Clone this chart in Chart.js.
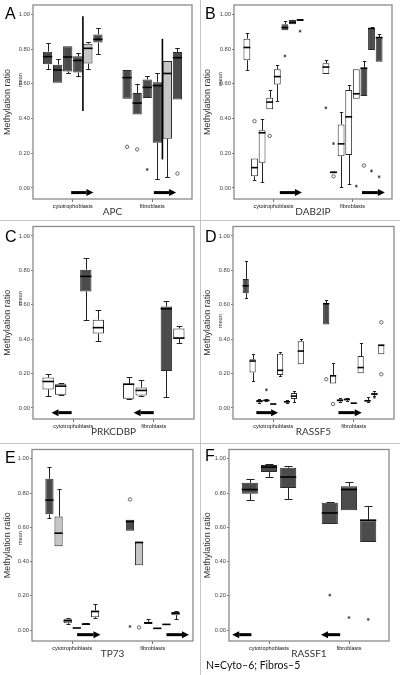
<!DOCTYPE html>
<html>
<head>
<meta charset="utf-8">
<script src="https://cdn.jsdelivr.net/npm/chart.js@4.4.1/dist/chart.umd.min.js"></script>
<style>
    body { margin: 0; background: #fff; width: 400px; height: 675px; position: relative; overflow: hidden; }
    canvas { position: absolute; }
    .vline { position: absolute; left: 200px; top: 0; width: 1px; height: 675px; background: #c4c4c4; }
    .hline { position: absolute; left: 0; width: 400px; height: 1px; background: #c4c4c4; }
    #note { position: absolute; left: 206px; top: 659px; font: 10.5px Lato, sans-serif; color: #111; }
</style>
</head>
<body>
<div class="vline"></div>
<div class="hline" style="top:220px"></div>
<div class="hline" style="top:443px"></div>
<canvas id="pA" width="200" height="220" style="left:0;top:0"></canvas>
<canvas id="pB" width="200" height="220" style="left:200px;top:0"></canvas>
<canvas id="pC" width="200" height="218" style="left:0;top:222px"></canvas>
<canvas id="pD" width="200" height="218" style="left:200px;top:222px"></canvas>
<canvas id="pE" width="200" height="217" style="left:0;top:445px"></canvas>
<canvas id="pF" width="200" height="217" style="left:200px;top:445px"></canvas>
<div id="note">N=Cyto–6; Fibros–5</div>
<script>
// categories and axis
const groups = ['cytotrophoblasts', 'fibroblasts'];
const yTicks = [0, 0.2, 0.4, 0.6, 0.8, 1.0];

// every box is [min, q1, median, q3, max]; outliers are [group, box, value, mark]

// A - APC
const apcCyto = [[0.684, 0.713, 0.757, 0.786, 0.834], [0.607, 0.607, 0.680, 0.711, 0.746], [0.665, 0.672, 0.755, 0.817, 0.817],
    [0.648, 0.665, 0.735, 0.760, 0.780], [0.688, 0.717, 0.805, 0.832, 0.844], [0.775, 0.838, 0.857, 0.885, 0.920]];
const apcFibro = [[0.514, 0.514, 0.636, 0.680, 0.680], [0.424, 0.424, 0.489, 0.547, 0.600], [0.518, 0.518, 0.580, 0.626, 0.645],
    [0.054, 0.260, 0.590, 0.610, 0.660], [0.062, 0.283, 0.660, 0.732, 0.732], [0.510, 0.510, 0.751, 0.784, 0.807]];
const apcOutliers = [[1, 0, 0.237, 'o'], [1, 1, 0.222, 'o'], [1, 2, 0.106, '*'], [1, 5, 0.083, 'o']];
// [group, box it sits after, low, high]
const apcRanges = [[0, 3, 0.443, 0.990], [1, 3, 0.164, 0.860]];

// B - DAB2IP
const dabCyto = [[0.682, 0.736, 0.810, 0.861, 0.896], [0.043, 0.067, 0.117, 0.170, 0.170], [0.033, 0.145, 0.318, 0.333, 0.400],
    [0.453, 0.453, 0.495, 0.520, 0.565], [0.499, 0.597, 0.642, 0.684, 0.709], [0.909, 0.909, 0.925, 0.944, 0.961],
    [0.944, 0.944, 0.954, 0.969, 0.971], [0.963, 0.963, 0.969, 0.973, 0.973]];
const dabFibro = [[0.657, 0.657, 0.697, 0.719, 0.738], [0.084, 0.084, 0.090, 0.094, 0.094], [0.008, 0.183, 0.254, 0.366, 0.440],
    [0.020, 0.190, 0.410, 0.565, 0.593], [0.514, 0.514, 0.543, 0.684, 0.684], [0.530, 0.530, 0.690, 0.694, 0.732],
    [0.796, 0.796, 0.919, 0.919, 0.927], [0.728, 0.728, 0.867, 0.867, 0.890]];
const dabOutliers = [[0, 1, 0.385, 'o'], [0, 3, 0.300, 'o'], [0, 5, 0.761, '*'], [0, 7, 0.904, '*'],
    [1, 0, 0.462, '*'], [1, 1, 0.256, '*'], [1, 1, 0.067, 'o'], [1, 4, 0.010, '*'], [1, 5, 0.129, 'o'], [1, 6, 0.098, '*'], [1, 7, 0.064, '*']];

// C - PRKCDBP
const prkCyto = [[0.067, 0.108, 0.154, 0.177, 0.196], [0.073, 0.077, 0.127, 0.138, 0.146], null,
    [0.513, 0.677, 0.765, 0.804, 0.869], [0.388, 0.433, 0.467, 0.513, 0.571]];
const prkFibro = [[0.050, 0.054, 0.138, 0.142, 0.183], [0.069, 0.073, 0.102, 0.119, 0.162], null,
    [0.062, 0.215, 0.577, 0.590, 0.619], [0.377, 0.404, 0.406, 0.462, 0.479]];
const prkOutliers = [];

// D - RASSF5
const rasCyto = [[0.642, 0.667, 0.710, 0.750, 0.856], [0.158, 0.206, 0.273, 0.283, 0.312], [0.030, 0.032, 0.040, 0.046, 0.050],
    [0.038, 0.040, 0.044, 0.048, 0.050], [0.021, 0.021, 0.023, 0.025, 0.025], [0.187, 0.192, 0.219, 0.315, 0.327],
    [0.031, 0.033, 0.036, 0.042, 0.044], [0.037, 0.052, 0.069, 0.087, 0.096], [0.254, 0.254, 0.331, 0.388, 0.402]];
const rasFibro = [[0.485, 0.485, 0.606, 0.610, 0.629], [0.142, 0.142, 0.187, 0.192, 0.263], [0.035, 0.038, 0.045, 0.050, 0.058],
    [0.040, 0.044, 0.050, 0.054, 0.060], [0.026, 0.026, 0.028, 0.030, 0.030], [0.202, 0.202, 0.235, 0.302, 0.379],
    [0.036, 0.038, 0.042, 0.046, 0.063], [0.070, 0.076, 0.081, 0.088, 0.096], [0.312, 0.312, 0.365, 0.365, 0.365]];
const rasOutliers = [[0, 3, 0.106, '*'], [1, 0, 0.167, 'o'], [1, 1, 0.023, 'o'], [1, 7, 0.062, '*'], [1, 8, 0.498, 'o'], [1, 8, 0.196, 'o']];

// E - TP73
const tpCyto = [[0.657, 0.676, 0.759, 0.884, 0.952], [0.489, 0.489, 0.566, 0.663, 0.825], [0.035, 0.040, 0.054, 0.066, 0.073],
    [0.010, 0.010, 0.012, 0.014, 0.014], [0.030, 0.030, 0.035, 0.038, 0.044], [0.071, 0.075, 0.108, 0.114, 0.152]];
const tpFibro = [[0.580, 0.580, 0.634, 0.645, 0.645], [0.378, 0.378, 0.512, 0.512, 0.514], [0.036, 0.036, 0.042, 0.048, 0.066],
    [0.008, 0.008, 0.010, 0.012, 0.012], [0.031, 0.031, 0.033, 0.035, 0.035], [0.064, 0.087, 0.098, 0.106, 0.114]];
const tpOutliers = [[1, 0, 0.763, 'o'], [1, 0, 0.021, '*'], [1, 1, 0.015, 'o']];

// F - RASSF1
const rasf1Cyto = [[0.757, 0.796, 0.821, 0.860, 0.882], [0.897, 0.923, 0.952, 0.965, 0.971], [0.766, 0.830, 0.894, 0.948, 0.958]];
const rasf1Fibro = [[0.619, 0.619, 0.684, 0.744, 0.748], [0.700, 0.700, 0.821, 0.840, 0.865], [0.514, 0.514, 0.642, 0.642, 0.724]];
const rasf1Outliers = [[1, 0, 0.204, '*'], [1, 1, 0.073, '*'], [1, 2, 0.062, '*']];

const FILL = { D: '#4b4b4b', L: '#c6c6c6', W: '#ffffff' };

const panels = [
    { id: 'pA', letter: 'A', gene: 'APC', cyto: apcCyto, fibro: apcFibro, out: apcOutliers, ranges: apcRanges,
        fill: ['D', 'D', 'D', 'D', 'L', 'D'], padTop: 5, padRight: 8, yW: 33, cat: 0.76, bar: 0.92,
        arrowDir: 1, arrows: [[-0.02, 0.26], [0.02, 0.30]], mean: 80, letterY: 19 },
    { id: 'pB', letter: 'B', gene: 'DAB2IP', cyto: dabCyto, fibro: dabFibro, out: dabOutliers, ranges: [],
        fill: ['W', 'W', 'W', 'W', 'W', 'D', 'D', 'D'], padTop: 5, padRight: 8, yW: 34, cat: 0.77, bar: 0.9,
        arrowDir: 1, arrows: [[0.08, 0.36], [0.12, 0.41]], mean: 79, letterY: 19 },
    { id: 'pC', letter: 'C', gene: 'PRKCDBP', cyto: prkCyto, fibro: prkFibro, out: prkOutliers, ranges: [],
        fill: ['W', 'W', null, 'D', 'W'], padTop: 4, padRight: 6, yW: 33, cat: 0.78, bar: 0.9,
        arrowDir: -1, arrows: [[-0.27, -0.02], [-0.25, 0]], mean: 76, letterY: 20 },
    { id: 'pD', letter: 'D', gene: 'RASSF5', cyto: rasCyto, fibro: rasFibro, out: rasOutliers, ranges: [],
        fill: ['D', 'W', 'W', 'W', 'W', 'W', 'W', 'W', 'W'], padTop: 4, padRight: 6, yW: 33, cat: 0.77, bar: 0.9,
        arrowDir: 1, arrows: [[-0.21, 0.06], [-0.19, 0.10]], mean: 99, letterY: 20 },
    { id: 'pE', letter: 'E', gene: 'TP73', cyto: tpCyto, fibro: tpFibro, out: tpOutliers, ranges: [],
        fill: ['D', 'L', 'W', 'W', 'W', 'W'], padTop: 4, padRight: 7, yW: 32, cat: 0.68, bar: 0.9,
        arrowDir: 1, arrows: [[0.06, 0.35], [0.17, 0.45]], mean: 93, letterY: 18 },
    { id: 'pF', letter: 'F', gene: 'RASSF1', cyto: rasf1Cyto, fibro: rasf1Fibro, out: rasf1Outliers, ranges: [],
        fill: ['D', 'D', 'D'], padTop: 4, padRight: 11, yW: 29, cat: 0.72, bar: 0.84,
        arrowDir: -1, arrows: [[-0.46, -0.22], [-0.35, -0.11]], mean: null, letterY: 16 }
];

function seg(ctx, x1, y1, x2, y2) {
    ctx.beginPath();
    ctx.moveTo(x1, y1);
    ctx.lineTo(x2, y2);
    ctx.stroke();
}

const boxPlugin = {
    id: 'boxplot',
    beforeDatasetsDraw(chart) {
        // whiskers sit behind the boxes
        const { ctx } = chart;
        const y = chart.scales.y;
        ctx.save();
        ctx.strokeStyle = '#222';
        ctx.lineWidth = 1;
        chart.data.datasets.forEach((ds, i) => {
            chart.getDatasetMeta(i).data.forEach((el, g) => {
                const s = ds.stats[g];
                if (!s) return;
                const x = Math.round(el.x) + 0.5;
                const cap = Math.max(3, el.width * 0.5) / 2;
                if (s[4] > s[3]) {
                    const yt = Math.round(y.getPixelForValue(s[4])) + 0.5;
                    seg(ctx, x, yt, x, y.getPixelForValue(s[3]));
                    seg(ctx, x - cap, yt, x + cap, yt);
                }
                if (s[0] < s[1]) {
                    const yb = Math.round(y.getPixelForValue(s[0])) + 0.5;
                    seg(ctx, x, yb, x, y.getPixelForValue(s[1]));
                    seg(ctx, x - cap, yb, x + cap, yb);
                }
            });
        });
        ctx.restore();
    },
    afterDatasetsDraw(chart, args, opts) {
        const p = opts.panel;
        const { ctx, chartArea } = chart;
        const x = chart.scales.x, y = chart.scales.y;
        ctx.save();
        // medians
        ctx.strokeStyle = '#000';
        ctx.lineWidth = 1.6;
        chart.data.datasets.forEach((ds, i) => {
            chart.getDatasetMeta(i).data.forEach((el, g) => {
                const s = ds.stats[g];
                if (!s) return;
                const ym = y.getPixelForValue(s[2]);
                seg(ctx, el.x - el.width / 2, ym, el.x + el.width / 2, ym);
            });
        });
        // long range lines
        ctx.lineWidth = 1.6;
        p.ranges.forEach(([g, b, lo, hi]) => {
            const el = chart.getDatasetMeta(b).data[g];
            const xr = el.x + el.width / 2 + 0.5;
            seg(ctx, xr, y.getPixelForValue(lo), xr, y.getPixelForValue(hi));
        });
        // outliers
        p.out.forEach(([g, b, v, mark]) => {
            const el = chart.getDatasetMeta(b).data[g];
            const px = el.x, py = y.getPixelForValue(v);
            if (mark === 'o') {
                ctx.strokeStyle = '#555';
                ctx.lineWidth = 0.9;
                ctx.beginPath();
                ctx.arc(px, py, 1.7, 0, Math.PI * 2);
                ctx.stroke();
            } else {
                ctx.strokeStyle = '#333';
                ctx.lineWidth = 0.8;
                for (let k = 0; k < 3; k++) {
                    const a = Math.PI / 2 + k * Math.PI / 3;
                    seg(ctx, px - Math.cos(a) * 1.5, py - Math.sin(a) * 1.5, px + Math.cos(a) * 1.5, py + Math.sin(a) * 1.5);
                }
            }
        });
        // arrows
        ctx.fillStyle = '#000';
        ctx.strokeStyle = '#000';
        const ya = y.getPixelForValue(-0.027);
        p.arrows.forEach(([a0, a1], g) => {
            const x0 = x.getPixelForValue(g + a0), x1 = x.getPixelForValue(g + a1);
            const tip = p.arrowDir > 0 ? x1 : x0;
            const tail = p.arrowDir > 0 ? x0 : x1;
            const base = tip - p.arrowDir * 7;
            ctx.lineWidth = 3;
            seg(ctx, tail, ya, base, ya);
            ctx.beginPath();
            ctx.moveTo(tip, ya);
            ctx.lineTo(base, ya - 3.5);
            ctx.lineTo(base, ya + 3.5);
            ctx.closePath();
            ctx.fill();
        });
        // plot frame
        ctx.strokeStyle = '#8a8a8a';
        ctx.lineWidth = 1.3;
        ctx.strokeRect(chartArea.left, chartArea.top, chartArea.right - chartArea.left, chartArea.bottom - chartArea.top);
        // panel letter and sub title
        ctx.fillStyle = '#000';
        ctx.font = '16px "Liberation Sans", Arial, sans-serif';
        ctx.textBaseline = 'alphabetic';
        ctx.fillText(p.letter, 5, p.letterY);
        if (p.mean !== null) {
            ctx.translate(22, p.mean);
            ctx.rotate(-Math.PI / 2);
            ctx.fillStyle = '#333';
            ctx.font = '5.5px "Liberation Sans", Arial, sans-serif';
            ctx.textAlign = 'center';
            ctx.fillText('mean', 0, 0);
        }
        ctx.restore();
    }
};

panels.forEach(p => {
    const datasets = p.fill.map((f, i) => {
        const c = p.cyto[i], fb = p.fibro[i];
        return {
            data: [c ? [c[1], c[3]] : null, fb ? [fb[1], fb[3]] : null],
            stats: [c, fb],
            backgroundColor: f ? FILL[f] : 'rgba(0,0,0,0)',
            borderColor: '#2a2a2a',
            borderWidth: 1,
            borderSkipped: false,
            categoryPercentage: p.cat,
            barPercentage: p.bar
        };
    });
    new Chart(document.getElementById(p.id).getContext('2d'), {
        type: 'bar',
        data: { labels: groups, datasets: datasets },
        options: {
            responsive: false,
            animation: false,
            events: [],
            layout: { padding: { top: p.padTop, right: p.padRight, left: 0, bottom: 0 } },
            plugins: { legend: { display: false }, tooltip: { enabled: false }, boxplot: { panel: p } },
            scales: {
                x: {
                    grid: { display: true, drawOnChartArea: false, offset: false, tickLength: 3, color: '#777' },
                    border: { display: false },
                    ticks: { font: { family: 'Liberation Sans', size: 5.5 }, color: '#111', padding: 1, maxRotation: 0, autoSkip: false },
                    title: { display: true, text: p.gene, font: { family: 'Lato', size: 10 }, color: '#333', padding: { top: 0, bottom: 2 } },
                    afterFit(s) { s.height = 21; }
                },
                y: {
                    min: -0.064,
                    max: 1.055,
                    afterBuildTicks(s) { s.ticks = yTicks.map(v => ({ value: v })); },
                    ticks: { callback: v => v.toFixed(2), font: { family: 'Liberation Sans', size: 5.8 }, color: '#444', padding: 1 },
                    grid: { drawOnChartArea: false, tickLength: 2, color: '#777' },
                    border: { display: false },
                    title: { display: true, text: 'Methylation ratio', font: { family: 'Liberation Sans', size: 9 }, color: '#333', padding: { top: 2, bottom: 0 } },
                    afterFit(s) { s.width = p.yW; }
                }
            }
        },
        plugins: [boxPlugin]
    });
});
</script>
</body>
</html>
